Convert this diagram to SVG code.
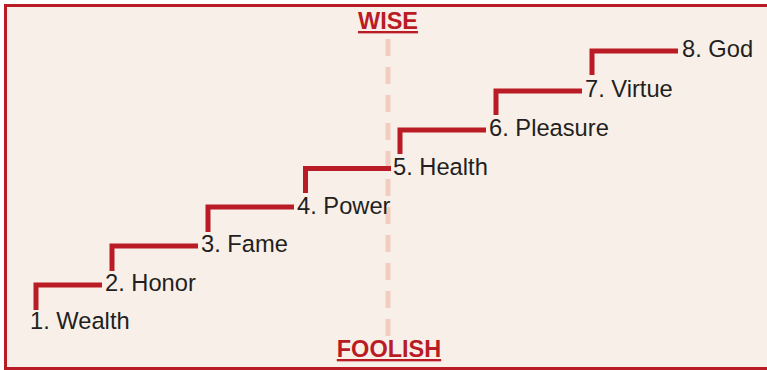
<svg xmlns="http://www.w3.org/2000/svg" width="767" height="370" viewBox="0 0 767 370">
  <style>
    .step { fill: none; stroke: #b91c24; stroke-width: 5; stroke-linejoin: miter; stroke-linecap: butt; }
    .lbl { font-family: "Liberation Sans", Arial, sans-serif; font-size: 23.7px; fill: #231f20; }
    .pole { font-family: "Liberation Sans", Arial, sans-serif; font-size: 23.5px; font-weight: bold; fill: #b91c24; text-anchor: middle; text-decoration: underline; }
  </style>
  <!-- frame -->
  <rect x="0" y="0" width="767" height="370" fill="#ffffff"/>
  <rect x="5.5" y="5.5" width="775" height="363" fill="#f9efe9" stroke="#b91c24" stroke-width="3"/>

  <!-- wise / foolish divider -->
  <g id="divider">
    <line x1="388" y1="39" x2="388" y2="336" stroke="#f2cdbf" stroke-width="5" stroke-dasharray="17 11"/>
    <text class="pole" x="388" y="29">WISE</text>
    <text class="pole" x="389" y="357">FOOLISH</text>
  </g>

  <!-- stair connectors -->
  <g id="connectors">
    <polyline class="step" points="36,310 36,285 102,285"/>
    <polyline class="step" points="112,271 112,246 198,246"/>
    <polyline class="step" points="208,232 208,207 294,207"/>
    <polyline class="step" points="305.5,193 305.5,168.5 391,168.5"/>
    <polyline class="step" points="400,154 400,130 486,130"/>
    <polyline class="step" points="496,115 496,91 582,91"/>
    <polyline class="step" points="592,75 592,51 678,51"/>
  </g>

  <g id="n1"><text class="lbl" x="30" y="329">1. Wealth</text></g>
  <g id="n2"><text class="lbl" x="105" y="291">2. Honor</text></g>
  <g id="n3"><text class="lbl" x="201" y="252">3. Fame</text></g>
  <g id="n4"><text class="lbl" x="297" y="214">4. Power</text></g>
  <g id="n5"><text class="lbl" x="393" y="175">5. Health</text></g>
  <g id="n6"><text class="lbl" x="489" y="136">6. Pleasure</text></g>
  <g id="n7"><text class="lbl" x="585" y="97">7. Virtue</text></g>
  <g id="n8"><text class="lbl" x="682" y="57">8. God</text></g>
</svg>
